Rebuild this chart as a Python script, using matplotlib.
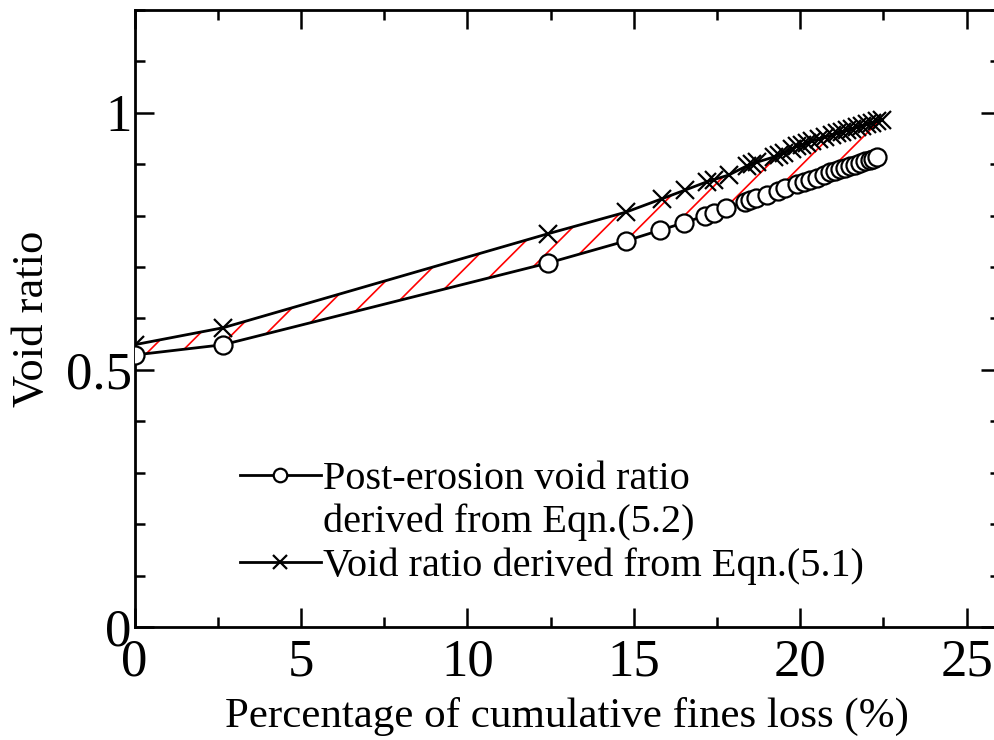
import numpy as np
import matplotlib.pyplot as plt
from matplotlib.lines import Line2D
from matplotlib.ticker import MultipleLocator

plt.rcParams['font.family'] = ['Liberation Serif', 'DejaVu Serif']
plt.rcParams['hatch.linewidth'] = 1.2

# post-erosion void ratio, Eqn.(5.2)  (circles)
post_x = [0, 2.66, 12.43, 14.77, 15.8, 16.5, 17.15, 17.4, 17.78, 18.35, 18.5,
          18.68, 19.0, 19.34, 19.55, 19.9, 20.1, 20.3, 20.5, 20.7, 20.9, 21.05,
          21.2, 21.35, 21.5, 21.65, 21.8, 21.95, 22.1, 22.2, 22.3]
post_y = [0.529, 0.549, 0.708, 0.751, 0.772, 0.786, 0.800, 0.806, 0.815, 0.827,
          0.831, 0.835, 0.840, 0.848, 0.853, 0.861, 0.866, 0.870, 0.874, 0.879,
          0.884, 0.887, 0.890, 0.893, 0.896, 0.899, 0.903, 0.906, 0.909, 0.911,
          0.915]

# void ratio, Eqn.(5.1)  (crosses)
eq_x = [0, 2.66, 12.43, 14.77, 15.85, 16.55, 17.2, 17.4, 17.85, 18.4, 18.55,
        18.7, 19.2, 19.35, 19.5, 19.75, 19.9, 20.05, 20.2, 20.35, 20.55, 20.75,
        20.95, 21.1, 21.25, 21.4, 21.55, 21.7, 21.85, 22.0, 22.15, 22.3, 22.45]
eq_y = [0.549, 0.582, 0.765, 0.807, 0.833, 0.850, 0.866, 0.870, 0.879, 0.897,
        0.901, 0.904, 0.914, 0.918, 0.922, 0.930, 0.935, 0.938, 0.941, 0.945,
        0.949, 0.953, 0.957, 0.960, 0.963, 0.966, 0.969, 0.972, 0.975, 0.978,
        0.981, 0.984, 0.987]

fig = plt.figure(figsize=(9.95, 7.4), dpi=100)
ax = fig.add_axes([0.1352, 0.1527, 0.8698, 0.8338])

# hatched band between the two curves
band_x = np.concatenate([post_x, eq_x[::-1]])
band_y = np.concatenate([post_y, eq_y[::-1]])
ax.fill(band_x, band_y, facecolor='none', edgecolor='red', hatch='/',
        linewidth=0, zorder=1)

ax.plot(post_x, post_y, color='black', lw=2, marker='o', ms=13,
        mfc='white', mec='black', mew=1.6, zorder=3)
ax.plot(eq_x, eq_y, color='black', lw=2, marker='x', ms=13,
        mec='black', mew=1.6, zorder=2)

ax.set_xlim(0, 26)
ax.set_ylim(0, 1.2)
ax.xaxis.set_major_locator(MultipleLocator(5))
ax.xaxis.set_minor_locator(MultipleLocator(2.5))
ax.yaxis.set_major_locator(MultipleLocator(0.5))
ax.yaxis.set_minor_locator(MultipleLocator(0.1))
ax.set_xticks([0, 5, 10, 15, 20, 25])
ax.set_xticklabels(['0', '5', '10', '15', '20', '25'])
ax.set_yticks([0, 0.5, 1])
ax.set_yticklabels(['0', '0.5', '1'])

ax.tick_params(which='both', direction='in', top=True, right=True,
               width=1.8, labelsize=38, pad=2)
ax.tick_params(axis='x', which='both', pad=8)
ax.tick_params(which='major', length=14)
ax.tick_params(which='minor', length=7)
for s in ax.spines.values():
    s.set_linewidth(2)

ax.set_xlabel('Percentage of cumulative fines loss (%)', fontsize=31, labelpad=8)
ax.set_ylabel('Void ratio', fontsize=32, labelpad=10)

h1 = Line2D([], [], color='black', lw=2, marker='o', ms=13, mfc='white',
            mec='black', mew=1.6)
h2 = Line2D([], [], color='black', lw=2, marker='x', ms=13, mec='black',
            mew=1.6)
blank = Line2D([], [], linestyle='none', marker='none')
ax.legend([h1, blank, h2],
          ['Post-erosion void ratio', 'derived from Eqn.(5.2)',
           'Void ratio derived from Eqn.(5.1)'],
          loc='upper left', bbox_to_anchor=(0.122, 0.269), frameon=False,
          fontsize=29, handlelength=2.0, handletextpad=0.05,
          labelspacing=0.14, borderpad=0, borderaxespad=0, markerscale=0.75)

fig.savefig('out.png', dpi=100)
